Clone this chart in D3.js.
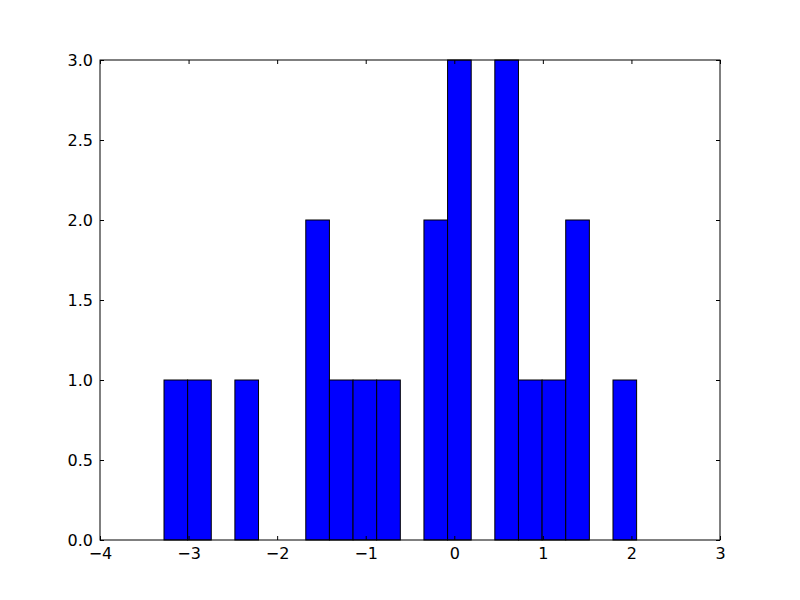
<!DOCTYPE html>
<html><head><meta charset="utf-8">
<script src="https://cdn.jsdelivr.net/npm/d3@7"></script>
<style>body{margin:0;background:#fff}</style>
</head><body>
<script>
// Histogram data: 20 bins, start edge and width
const binStart = -3.2774;
const binWidth = 0.2668;
const counts = [1,1,0,1,0,0,2,1,1,1,0,2,3,0,3,1,1,2,0,1];
const xTicks = [-4,-3,-2,-1,0,1,2,3];
const yTicks = [0,0.5,1,1.5,2,2.5,3];

const W = 800, H = 600;
const m = {left:100, right:80, top:60, bottom:60};
const FS = "16px";
const svg = d3.select("body").append("svg").attr("width",W).attr("height",H)
  .style("font-family","DejaVu Sans").style("font-size",FS);

const x = d3.scaleLinear().domain([-4,3]).range([m.left, W-m.right]);
const y = d3.scaleLinear().domain([0,3]).range([H-m.bottom, m.top]);

const bins = counts.map((c,i)=>({x0: binStart+i*binWidth, x1: binStart+(i+1)*binWidth, c}));

svg.append("g").selectAll("rect").data(bins.filter(b=>b.c>0)).join("rect")
  .attr("x",d=>x(d.x0)).attr("width",d=>x(d.x1)-x(d.x0))
  .attr("y",d=>y(d.c)).attr("height",d=>y(0)-y(d.c))
  .attr("fill","#0000ff").attr("stroke","#000").attr("stroke-width",1);

const fmtX = d=> d<0 ? "\u2212"+Math.abs(d) : String(d);
const fmtY = d=> d3.format(".1f")(d);

const gb = svg.append("g").attr("transform",`translate(0,${H-m.bottom})`)
  .call(d3.axisBottom(x).tickValues(xTicks).tickFormat(fmtX).tickSizeInner(-4).tickSizeOuter(0).tickPadding(8));
const gt = svg.append("g").attr("transform",`translate(0,${m.top})`)
  .call(d3.axisTop(x).tickValues(xTicks).tickFormat("").tickSizeInner(-4).tickSizeOuter(0));
const gl = svg.append("g").attr("transform",`translate(${m.left},0)`)
  .call(d3.axisLeft(y).tickValues(yTicks).tickFormat(fmtY).tickSizeInner(-4).tickSizeOuter(0).tickPadding(7));
const gr = svg.append("g").attr("transform",`translate(${W-m.right},0)`)
  .call(d3.axisRight(y).tickValues(yTicks).tickFormat("").tickSizeInner(-4).tickSizeOuter(0));
[gb,gt,gl,gr].forEach(g=>{
  g.select(".domain").remove();
  g.selectAll("line").attr("stroke","#000");
  g.selectAll("text").attr("fill","#000").style("font-family","DejaVu Sans").style("font-size",FS);
});

svg.append("rect").attr("x",m.left).attr("y",m.top)
  .attr("width",W-m.left-m.right).attr("height",H-m.top-m.bottom)
  .attr("fill","none").attr("stroke","#000").attr("stroke-width",1);
</script>
</body></html>
